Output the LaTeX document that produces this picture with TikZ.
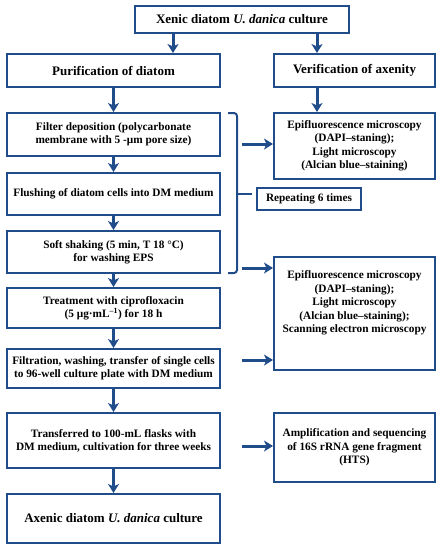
\documentclass[tikz,border=0pt]{standalone}
\usepackage{fontspec}
\setmainfont{Liberation Serif}
\usetikzlibrary{arrows.meta}
\definecolor{Frame}{RGB}{33,76,138}

\begin{document}
\begin{tikzpicture}[
    x=1pt,
    y=-1pt,
    every node/.style={align=center},
    headbox/.style={
      draw=Frame,
      line width=2pt,
      inner sep=2pt,
      font=\fontsize{13}{15}\selectfont\bfseries
    },
    stepbox/.style={
      draw=Frame,
      line width=2pt,
      minimum width=213pt,
      inner sep=1pt,
      font=\fontsize{11.3}{13}\selectfont\bfseries
    },
    checkbox/.style={
      draw=Frame,
      line width=2pt,
      minimum width=161pt,
      inner sep=1pt,
      font=\fontsize{11.3}{13.5}\selectfont\bfseries
    },
    flow/.style={-{Stealth[length=9pt,width=11pt,inset=2.5pt]}, line width=3pt, color=Frame}
  ]
    \useasboundingbox (0,0) rectangle (443,550);

    % Top of the scheme
    \node[headbox, minimum width=214pt, minimum height=27pt] (xenic) at (242,19.5) {Xenic diatom \textit{U. danica} culture};
    \node[headbox, minimum width=213pt, minimum height=33pt] (purif) at (113.5,70.5) {Purification of diatom};
    \node[headbox, minimum width=161pt, minimum height=33pt] (verif) at (354.5,70.5) {Verification of axenity};

    % Purification steps
    \node[stepbox, minimum height=43pt] (filter) at (113.5,134.5) {Filter deposition (polycarbonate\\membrane with 5 -μm pore size)};
    \node[stepbox, minimum height=42pt] (flush) at (113.5,194) {Flushing of diatom cells into DM medium};
    \node[stepbox, minimum height=42pt] (shake) at (113.5,252) {Soft shaking (5 min, T 18 °C)\\for washing EPS};
    \node[stepbox, minimum height=40pt] (treat) at (113.5,308) {Treatment with ciprofloxacin\\(5 μg·mL\textsuperscript{--1}) for 18 h};
    \node[stepbox, minimum height=39pt] (filtr) at (113.5,368.5) {Filtration, washing, transfer of single cells\\to 96-well culture plate with DM medium};
    \node[stepbox, minimum height=55pt] (transf) at (113.5,440.5) {Transferred to 100-mL flasks with\\DM medium, cultivation for three weeks};
    \node[headbox, minimum width=213pt, minimum height=49pt] (axenic) at (113.5,518.5) {Axenic diatom \textit{U. danica} culture};

    % Verification checks
    \node[checkbox, minimum height=66pt] (epi1) at (354.5,146) {Epifluorescence microscopy\\(DAPI--staning);\\Light microscopy\\(Alcian blue--staining)};
    \node[checkbox, minimum width=104pt, minimum height=22pt] (repeat) at (309,199) {Repeating 6 times};
    \node[checkbox, minimum height=113pt] (epi2) at (354.5,313.5) {Epifluorescence microscopy\\(DAPI--staning);\\Light microscopy\\(Alcian blue--staining);\\Scanning electron microscopy\\[10pt]};
    \node[checkbox, minimum height=69pt] (amp) at (354.5,447.5) {Amplification and sequencing\\of 16S rRNA gene fragment\\(HTS)};

    % Helper coordinates
    \coordinate (lx) at (173,0);
    \coordinate (rx) at (317,0);
    \coordinate (a1) at (242,144);
    \coordinate (a2) at (242,268);
    \coordinate (a3) at (242,360);
    \coordinate (a4) at (242,446);

    % Bracket round the washing cycle
    \draw[Frame, line width=2pt, rounded corners=3pt] (228,113) -- (237,113) -- (237,273) -- (228,273);
    \draw[Frame, line width=2pt] (237,194) -- (252,194);

    % Main flow
    \draw[flow] (xenic.south -| lx) -- (purif.north -| lx);
    \draw[flow] (xenic.south -| rx) -- (verif.north -| rx);
    \draw[flow] (purif) -- (filter);
    \draw[flow] (verif.south -| rx) -- (epi1.north -| rx);
    \draw[flow] (filter) -- (flush);
    \draw[flow] (flush) -- (shake);
    \draw[flow] (shake) -- (treat);
    \draw[flow] (treat) -- (filtr);
    \draw[flow] (filtr) -- (transf);
    \draw[flow] (transf) -- (axenic);

    % Side checks
    \draw[flow] (a1) -- (a1 -| epi1.west);
    \draw[flow] (a2) -- (a2 -| epi2.west);
    \draw[flow] (a3) -- (a3 -| epi2.west);
    \draw[flow] (a4) -- (a4 -| amp.west);
  \end{tikzpicture}
\end{document}
